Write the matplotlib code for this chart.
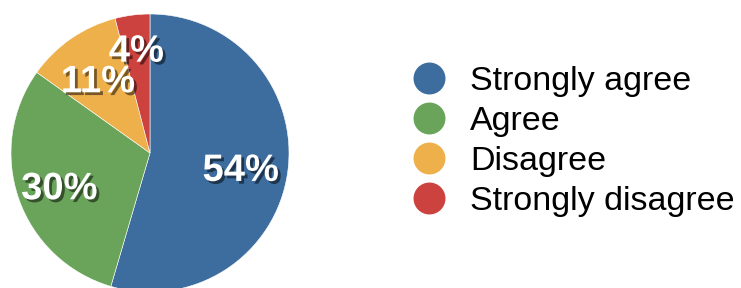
import numpy as np
import matplotlib.pyplot as plt
import matplotlib.patheffects as pe
from matplotlib.lines import Line2D

plt.rcParams['font.family'] = ['Liberation Sans', 'DejaVu Sans']

# data
labels = ['Strongly agree', 'Agree', 'Disagree', 'Strongly disagree']
values = [54, 30, 11, 4]
colors = ['#3d6c9e', '#6aa45a', '#eeb04b', '#cc423e']
label_dist = [0.66, 0.69, 0.66, 0.77]

W, H = 741, 288
fig = plt.figure(figsize=(W / 100, H / 100), dpi=100)

# pie axes, centred at (150, 153) px from top-left, radius 139 px
cx, cy, r = 150, 153, 139
ax = fig.add_axes([(cx - r) / W, (H - cy - r) / H, 2 * r / W, 2 * r / H])
wedges, _ = ax.pie(values, colors=colors, startangle=90, counterclock=False,
                   radius=1, wedgeprops=dict(edgecolor='white', linewidth=0.4))
ax.set_xlim(-1, 1)
ax.set_ylim(-1, 1)
ax.set_aspect('equal')
ax.axis('off')

shadow = [pe.withSimplePatchShadow(offset=(2, -2), shadow_rgbFace='black', alpha=0.5)]
for w, v, d in zip(wedges, values, label_dist):
    ang = np.deg2rad((w.theta1 + w.theta2) / 2)
    ax.annotate('%d%%' % v, (d * np.cos(ang), d * np.sin(ang)),
                xytext=(0, -3.5), textcoords='offset points',
                ha='center', va='center', color='white', fontsize=27.5,
                fontweight='bold', path_effects=shadow)

# legend
handles = [Line2D([], [], marker='o', linestyle='none', markersize=23,
                  markerfacecolor=c, markeredgecolor='none') for c in colors]
fig.legend(handles, labels, loc='upper left', bbox_to_anchor=(392 / W, 1 - 49 / H),
           frameon=False, fontsize=24.5, handletextpad=0.6, labelspacing=0.26,
           borderpad=0, handlelength=1.2)

fig.savefig('out.png', dpi=100)
